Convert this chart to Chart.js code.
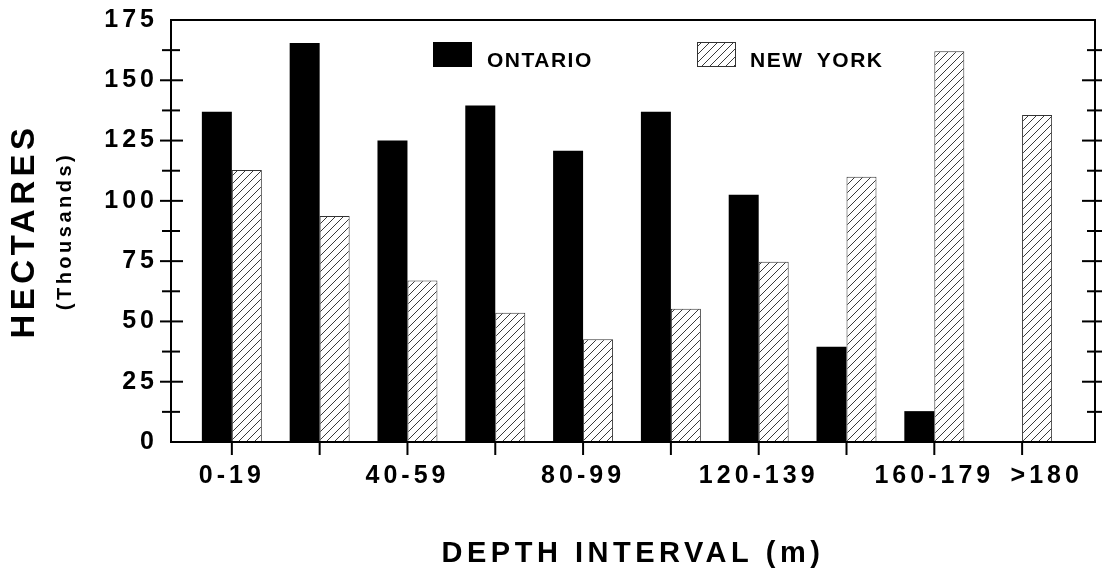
<!DOCTYPE html>
<html>
<head>
<meta charset="utf-8">
<script src="https://cdn.jsdelivr.net/npm/chart.js@4.4.1/dist/chart.umd.min.js"></script>
<style>
  html, body { margin: 0; padding: 0; background: #fff; }
  #wrap { width: 1102px; height: 572px; position: relative; }
</style>
</head>
<body>
<div id="wrap"><canvas id="c"></canvas></div>
<script>
// ---- data ----
const categories = ["0-19", "20-39", "40-59", "60-79", "80-99", "100-119", "120-139", "140-159", "160-179", ">180"];
const tickLabels = ["0-19", "", "40-59", "", "80-99", "", "120-139", "", "160-179", ">180"];
const ontario = [137, 165.5, 125, 139.5, 120.8, 137, 102.5, 39.5, 12.8, 0];
const newYork = [112.8, 93.7, 67, 53.6, 42.6, 55.3, 74.8, 110, 162, 135.6];
const seriesNames = ["ONTARIO", "NEW YORK"];
const yTicks = [0, 25, 50, 75, 100, 125, 150, 175];

// style: the last label sits a little right of its tick in the original
const LAST_LABEL_SHIFT = 0.28;

// ---- hatch pattern ----
function makeHatch() {
  const s = 8;
  const cv = document.createElement('canvas');
  cv.width = s; cv.height = s;
  const g = cv.getContext('2d');
  g.fillStyle = '#fff';
  g.fillRect(0, 0, s, s);
  g.strokeStyle = '#3a3a3a';
  g.lineWidth = 1;
  g.beginPath();
  g.moveTo(0, s); g.lineTo(s, 0);
  g.moveTo(-1, 1); g.lineTo(1, -1);
  g.moveTo(s - 1, s + 1); g.lineTo(s + 1, s - 1);
  g.stroke();
  return g.createPattern(cv, 'repeat');
}
const hatch = makeHatch();

const FONT = '"Liberation Sans", Arial, Helvetica, sans-serif';
Chart.defaults.font.family = FONT;
Chart.defaults.color = '#000';

// letter spacing per scale part
const spacingPlugin = {
  id: 'spacing',
  beforeDraw(chart) {
    const cfg = {
      x: { drawLabels: '4px', drawTitle: '4.5px' },
      y: { drawLabels: '4px', drawTitle: '3.5px' },
      yOuter: { drawTitle: '4.5px' }
    };
    for (const id in cfg) {
      const s = chart.scales[id];
      if (!s || s._spaced) continue;
      for (const fn in cfg[id]) {
        const orig = s[fn];
        const sp = cfg[id][fn];
        s[fn] = function (...args) {
          const ctx = this.ctx;
          const prev = ctx.letterSpacing;
          ctx.letterSpacing = sp;
          try { orig.apply(this, args); } finally { ctx.letterSpacing = prev; }
        };
      }
      s._spaced = true;
    }
  }
};

// frame, crossing tick marks
const framePlugin = {
  id: 'frame',
  afterDraw(chart) {
    const { ctx, chartArea: ca, scales } = chart;
    const x = scales.x, y = scales.y;
    ctx.save();
    ctx.strokeStyle = '#000';
    ctx.lineWidth = 2;
    ctx.strokeRect(ca.left, ca.top, ca.right - ca.left, ca.bottom - ca.top);
    const line = (x1, y1, x2, y2) => { ctx.beginPath(); ctx.moveTo(x1, y1); ctx.lineTo(x2, y2); ctx.stroke(); };
    const vals = y.ticks.map(t => t.value);
    vals.forEach((v, i) => {
      if (i === 0 || i === vals.length - 1) return;
      const py = y.getPixelForValue(v);
      line(ca.left - 11, py, ca.left + 12, py);
      line(ca.right - 13, py, ca.right + 8, py);
    });
    for (let i = 0; i < vals.length - 1; i++) {
      const py = y.getPixelForValue((vals[i] + vals[i + 1]) / 2);
      line(ca.left - 9, py, ca.left + 9, py);
      line(ca.right - 8, py, ca.right + 8, py);
    }
    categories.forEach((c, i) => {
      const px = x.getPixelForValue(i);
      line(px, ca.bottom, px, ca.bottom + 13);
    });
    ctx.restore();
  }
};

// in-plot legend
const legendPlugin = {
  id: 'inlegend',
  afterDraw(chart) {
    const { ctx, chartArea: ca } = chart;
    const items = [
      { ds: chart.data.datasets[0], bx: ca.left + 262, tx: ca.left + 316 },
      { ds: chart.data.datasets[1], bx: ca.left + 526, tx: ca.left + 579 }
    ];
    ctx.save();
    ctx.font = 'bold 21px ' + FONT;
    ctx.letterSpacing = '1.5px';
    ctx.wordSpacing = '6px';
    ctx.textBaseline = 'alphabetic';
    ctx.textAlign = 'left';
    items.forEach(it => {
      const bx = it.bx, by = ca.top + 22, bw = 39, bh = 25;
      ctx.fillStyle = it.ds.backgroundColor;
      ctx.fillRect(bx, by, bw, bh);
      if (it.ds.borderWidth) {
        ctx.strokeStyle = it.ds.borderColor;
        ctx.lineWidth = 1;
        ctx.strokeRect(bx + 0.5, by + 0.5, bw - 1, bh - 1);
      }
      ctx.fillStyle = '#000';
      ctx.fillText(it.ds.label, it.tx, ca.top + 47);
    });
    ctx.restore();
  }
};

new Chart(document.getElementById('c'), {
  type: 'bar',
  data: {
    datasets: [
      {
        label: seriesNames[0],
        data: ontario.map((v, i) => ({ x: i, y: v })),
        backgroundColor: '#000',
        borderWidth: 0,
        barPercentage: 1,
        categoryPercentage: 0.683
      },
      {
        label: seriesNames[1],
        data: newYork.map((v, i) => ({ x: i, y: v })),
        backgroundColor: hatch,
        borderColor: '#333',
        borderWidth: 1,
        borderSkipped: 'bottom',
        barPercentage: 1,
        categoryPercentage: 0.683
      }
    ]
  },
  options: {
    responsive: true,
    maintainAspectRatio: false,
    animation: false,
    layout: { padding: { top: 20, right: 7, left: 0, bottom: 0 } },
    plugins: { legend: { display: false }, tooltip: { enabled: false } },
    scales: {
      x: {
        type: 'linear',
        position: 'bottom',
        offset: false,
        min: -0.693,
        max: 9.83,
        grid: { display: false, drawTicks: false, offset: false },
        border: { display: false },
        afterBuildTicks: (s) => {
          const last = tickLabels.length - 1;
          s.ticks = tickLabels
            .map((t, i) => ({ value: i + (i === last ? LAST_LABEL_SHIFT : 0), idx: i }))
            .filter(t => tickLabels[t.idx] !== '');
        },
        ticks: {
          autoSkip: false,
          maxRotation: 0,
          padding: 19,
          font: { size: 25, weight: 'bold' },
          callback: (v) => tickLabels[Math.round(v)] || ''
        },
        title: {
          display: true,
          text: 'DEPTH INTERVAL (m)',
          font: { size: 29, weight: 'bold' },
          padding: { top: 0, bottom: 1 }
        },
        afterFit: (s) => { s.height = 130; s.paddingLeft = 0; s.paddingRight = 0; }
      },
      y: {
        type: 'linear',
        position: 'left',
        min: yTicks[0],
        max: yTicks[yTicks.length - 1],
        weight: 0,
        grid: { display: false, drawTicks: false },
        border: { display: false },
        afterBuildTicks: (s) => { s.ticks = yTicks.map(v => ({ value: v })); },
        ticks: {
          padding: 13,
          font: { size: 25, weight: 'bold' }
        },
        title: {
          display: true,
          text: '(Thousands)',
          font: { size: 20, weight: 'bold' },
          padding: { top: 3.5, bottom: 0 }
        },
        afterFit: (s) => { s.width = 121; s.paddingTop = 0; s.paddingBottom = 0; }
      },
      yOuter: {
        type: 'linear',
        position: 'left',
        weight: 1,
        display: true,
        grid: { display: false, drawTicks: false },
        border: { display: false },
        ticks: { display: false },
        title: {
          display: true,
          text: 'HECTARES',
          font: { size: 33, weight: 'bold' },
          padding: { top: 5, bottom: 0 }
        },
        afterFit: (s) => { s.width = 50; s.paddingTop = 0; s.paddingBottom = 0; }
      }
    }
  },
  plugins: [spacingPlugin, framePlugin, legendPlugin]
});
</script>
</body>
</html>
